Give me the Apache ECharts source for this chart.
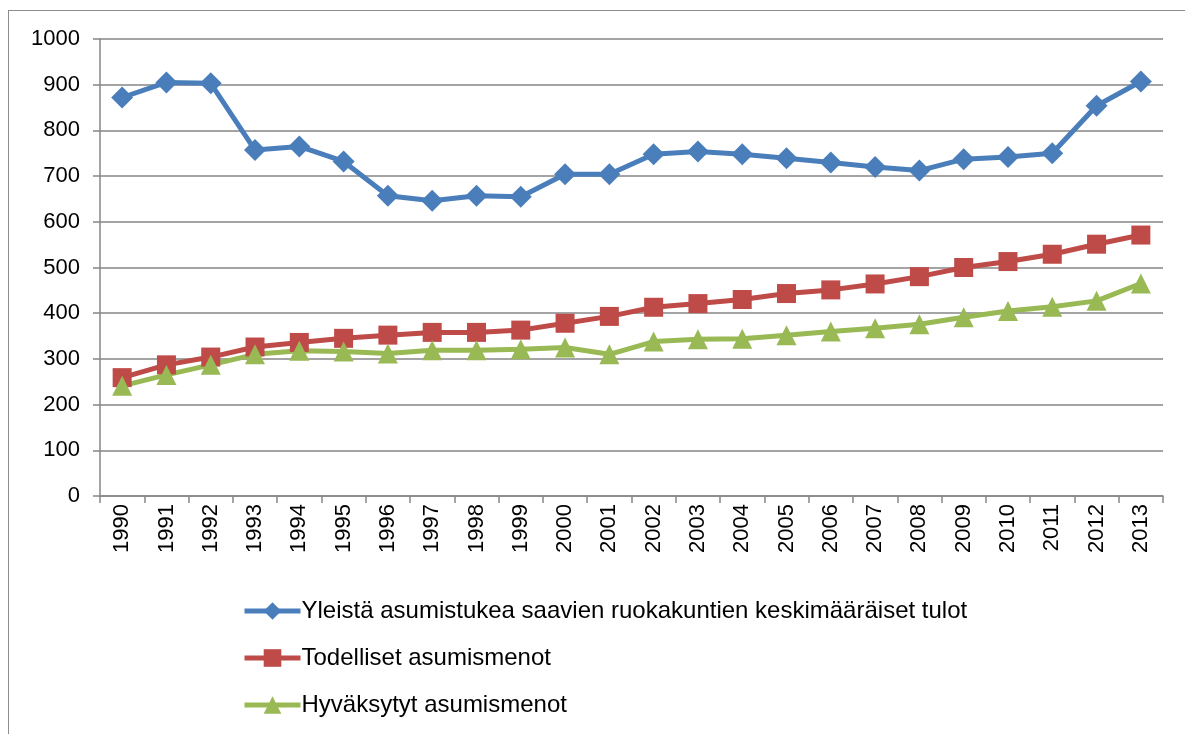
<!DOCTYPE html>
<html>
<head>
<meta charset="utf-8">
<script src="https://cdn.jsdelivr.net/npm/echarts@6/dist/echarts.min.js"></script>
<style>
  html, body { margin: 0; padding: 0; background: #fff; }
  #frame {
    position: absolute; left: 8px; top: 10px; width: 1190px; height: 740px;
    border: 1.5px solid #8c8c8c; box-sizing: border-box;
  }
  #chart { position: absolute; left: 0; top: 0; width: 1185px; height: 734px; }
</style>
</head>
<body>
<div id="frame"></div>
<div id="chart"></div>
<script>
const years = ['1990', '1991', '1992', '1993', '1994', '1995', '1996', '1997', '1998', '1999', '2000', '2001',
    '2002', '2003', '2004', '2005', '2006', '2007', '2008', '2009', '2010', '2011', '2012', '2013'];

const incomeValues = [872, 905, 903, 757, 765, 732, 657, 646, 657, 655, 704, 704,
    748, 754, 748, 739, 730, 720, 712, 737, 742, 750, 854, 907];
const actualCosts = [259, 287, 304, 326, 336, 345, 352, 358, 358, 363, 378, 393,
    413, 421, 430, 443, 451, 464, 480, 500, 513, 529, 551, 571];
const approvedCosts = [241, 265, 287, 310, 318, 316, 312, 319, 319, 321, 325, 310,
    338, 343, 344, 352, 360, 367, 376, 391, 405, 414, 427, 465];

const seriesNames = [
    'Yleistä asumistukea saavien ruokakuntien keskimääräiset tulot',
    'Todelliset asumismenot',
    'Hyväksytyt asumismenot'
];

const yTicks = { min: 0, max: 1000, interval: 100 };

const font = '"Liberation Sans", Arial, sans-serif';
const gridGray = '#868686';

const chart = echarts.init(document.getElementById('chart'), null, { renderer: 'canvas' });

const makeSeries = (name, data, color, symbol, size) => ({
    name,
    type: 'line',
    data,
    symbol,
    symbolSize: size,
    lineStyle: { width: 5, color },
    itemStyle: { color },
    animation: false,
});

chart.setOption({
    animation: false,
    textStyle: { fontFamily: font },
    grid: { left: 100, right: 22, top: 39, bottom: 238 },
    legend: {
        orient: 'vertical',
        left: 237,
        top: 594,
        itemWidth: 56,
        itemHeight: 22,
        itemGap: 23,
        lineStyle: { width: 5 },
        textStyle: { fontSize: 24, color: '#000', fontFamily: font, padding: [0, 0, 0, -4] },
        data: seriesNames,
    },
    xAxis: {
        type: 'category',
        data: years,
        boundaryGap: true,
        axisLine: { lineStyle: { color: gridGray, width: 1.5 } },
        axisTick: { show: true, length: 7, lineStyle: { color: gridGray, width: 1.5 } },
        axisLabel: { rotate: 90, fontSize: 22, color: '#000', margin: 8, interval: 0 },
    },
    yAxis: {
        type: 'value',
        min: yTicks.min,
        max: yTicks.max,
        interval: yTicks.interval,
        axisLine: { show: true, lineStyle: { color: gridGray, width: 1.5 } },
        axisTick: { show: true, length: 7, lineStyle: { color: gridGray, width: 1.5 } },
        axisLabel: { fontSize: 22, color: '#000', margin: 20, formatter: v => String(v) },
        splitLine: { lineStyle: { color: gridGray, width: 1.5 } },
    },
    series: [
        makeSeries(seriesNames[0], incomeValues, '#4a7ebb', 'diamond', 22),
        makeSeries(seriesNames[1], actualCosts, '#be4b48', 'rect', 19),
        makeSeries(seriesNames[2], approvedCosts, '#98b954', 'triangle', 20),
    ],
});
</script>
</body>
</html>
